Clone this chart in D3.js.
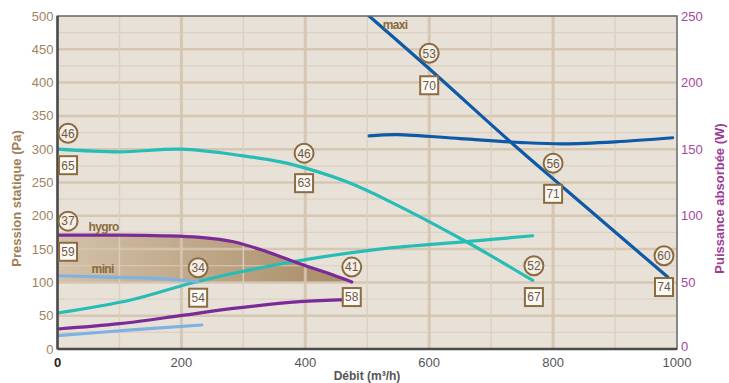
<!DOCTYPE html>
<html><head><meta charset="utf-8">
<script src="https://cdn.jsdelivr.net/npm/d3@7"></script>
<style>body{margin:0;background:#fff}svg{display:block}text{font-family:"Liberation Sans",Arial,sans-serif}</style>
</head><body><svg id="c" width="729" height="383"></svg>
<script>
// ---- data ----
const xTicks = [0,200,400,600,800,1000];
const yTicks = [0,50,100,150,200,250,300,350,400,450,500];
const y2Ticks = [0,50,100,150,200,250];
// pressure curves (Pa) vs flow (m3/h)
const maxiP  = [[503,500],[601,420],[730,312],[822,238],[985,108]];
const medP   = [[0,300],[100,296],[200,300],[300,290],[360,281],[410,269],[467,251],[531,224],[660,161],[767,103]];
const hygroP = [[0,171],[100,171],[170,170],[230,167.5],[284,161],[338,146],[391,128],[445,111],[475,100.6]];
const miniP  = [[0,110],[80,108],[157,106],[190,104],[227,101]];
// power curves (W)
const maxiW  = [[503,160],[548,161],[650,158],[750,155],[816,154],[900,155.5],[993,158.6]];
const medW   = [[0,27],[120,37],[225,50.5],[380,65.5],[520,75],[660,80.6],[767,85]];
const hygroW = [[0,15],[100,19],[198,25],[284,30.5],[391,35.5],[465,37]];
const miniW  = [[0,10],[120,14.3],[233,18]];
// annotations: [flow, Pa, text]
const circleLabels = [[17,324,"46"],[17,192,"37"],[227,122,"34"],[475,123,"41"],[398,294,"46"],[769,125,"52"],[600,444,"53"],[800,279,"56"],[979,140,"60"]];
const squareLabels = [[17,276,"65"],[17,146,"59"],[227,77,"54"],[475,78,"58"],[398,249,"63"],[769,78,"67"],[600,396,"70"],[800,233,"71"],[979,93,"74"]];
const curveNames = [[50,183,"hygro"],[55,120,"mini"],[545,487,"maxi"]];

// ---- layout ----
const svg = d3.select("#c");
const x = d3.scaleLinear([0,1000],[57.5,677]);
const y = d3.scaleLinear([0,500],[349,16]);
const y2 = d3.scaleLinear([0,250],[349,16]);

const defs = svg.append("defs");
const g = defs.append("linearGradient").attr("id","sh").attr("x1","0").attr("x2","1").attr("y1","0").attr("y2","0");
g.append("stop").attr("offset","0").attr("stop-color","#d3c1a8");
g.append("stop").attr("offset","1").attr("stop-color","#a98b66");
defs.append("clipPath").attr("id","clip").append("rect")
  .attr("x",x(0)).attr("y",y(500)).attr("width",x(1000)-x(0)).attr("height",y(0)-y(500));

svg.append("rect").attr("x",x(0)).attr("y",y(500)).attr("width",x(1000)-x(0)).attr("height",y(0)-y(500)).attr("fill","#e8e1d7");

const crv = d3.curveCatmullRom.alpha(0.5);
// shaded zone between hygro curve and 100 Pa
svg.append("path").datum(hygroP)
  .attr("d", d3.area().x(d=>x(d[0])).y0(y(100)).y1(d=>y(d[1])).curve(crv))
  .attr("fill","url(#sh)");

// grid
const gy = d3.range(25,500,25);
svg.append("g").selectAll("line").data(gy).join("line")
  .attr("x1",x(0)).attr("x2",x(1000)).attr("y1",d=>y(d)).attr("y2",d=>y(d))
  .attr("stroke", d=> d%50===0 ? "#d5c5b0" : "#ddd0c0")
  .attr("stroke-width", d=> d%50===0 ? 2.5 : 1.2).attr("opacity",0.9);
const gx = d3.range(100,1000,100);
svg.append("g").selectAll("line").data(gx).join("line")
  .attr("y1",y(0)).attr("y2",y(500)).attr("x1",d=>x(d)).attr("x2",d=>x(d))
  .attr("stroke", d=> d%200===0 ? "#d5c5b0" : "#ddd0c0")
  .attr("stroke-width", d=> d%200===0 ? 3 : 1.5).attr("opacity",0.9);

// curves
const lp = d3.line().x(d=>x(d[0])).y(d=>y(d[1])).curve(crv);
const lw = d3.line().x(d=>x(d[0])).y(d=>y2(d[1])).curve(crv);
const cg = svg.append("g").attr("clip-path","url(#clip)");
const curves = [
  [miniW, lw, "#7fb1e3"],[hygroW, lw, "#7b2b97"],[medW, lw, "#27bdb7"],[maxiW, lw, "#0e5aa6"],
  [miniP, lp, "#7fb1e3"],[hygroP, lp, "#7b2b97"],[medP, lp, "#27bdb7"],[maxiP, lp, "#0e5aa6"]
];
curves.forEach(([d,l,c])=>{
  cg.append("path").datum(d).attr("d",l).attr("fill","none").attr("stroke",c).attr("stroke-width",3.2).attr("stroke-linecap","round");
});

// frame
svg.append("rect").attr("x",x(0)).attr("y",y(500)).attr("width",x(1000)-x(0)).attr("height",y(0)-y(500))
  .attr("fill","none").attr("stroke","#666").attr("stroke-width",1.5);
svg.append("line").attr("x1",x(0)).attr("x2",x(1000)).attr("y1",y(0)).attr("y2",y(0)).attr("stroke","#4a4a4a").attr("stroke-width",2.5);
svg.append("line").attr("x1",x(0)).attr("x2",x(0)).attr("y1",y(0)).attr("y2",y(500)).attr("stroke","#4a4a4a").attr("stroke-width",2.5);

// annotations
const brown = "#8b6b3f";
svg.append("g").selectAll("g").data(circleLabels).join("g")
  .attr("transform",d=>`translate(${x(d[0])},${y(d[1])})`)
  .call(s=>{
    s.append("circle").attr("r",9.5).attr("fill","#f3eee7").attr("stroke",brown).attr("stroke-width",2);
    s.append("text").attr("text-anchor","middle").attr("dy","0.36em").attr("font-size",12).attr("fill","#6f5a44").text(d=>d[2]);
  });
svg.append("g").selectAll("g").data(squareLabels).join("g")
  .attr("transform",d=>`translate(${x(d[0])},${y(d[1])})`)
  .call(s=>{
    s.append("rect").attr("x",-9).attr("y",-9).attr("width",18).attr("height",18).attr("fill","#fbf9f6").attr("stroke",brown).attr("stroke-width",2);
    s.append("text").attr("text-anchor","middle").attr("dy","0.36em").attr("font-size",12).attr("fill","#6f5a44").text(d=>d[2]);
  });
svg.append("g").selectAll("text").data(curveNames).join("text")
  .attr("x",d=>x(d[0])).attr("y",d=>y(d[1])).attr("dy","0.35em")
  .attr("text-anchor",(d,i)=> i===2 ? "middle":"start")
  .attr("font-size",12).attr("font-weight","bold").attr("letter-spacing","-0.6").attr("fill","#8a6a3c").text(d=>d[2]);

// axes
svg.append("g").selectAll("text").data(yTicks).join("text")
  .attr("x",x(0)-4).attr("y",d=>y(d)).attr("dy","0.35em").attr("text-anchor","end")
  .attr("font-size",13).attr("fill","#9c8462").text(d=>d);
svg.append("g").selectAll("text").data(y2Ticks).join("text")
  .attr("x",x(1000)+4).attr("y",d=>y2(d)-(d===0?3:0)).attr("dy","0.35em").attr("text-anchor","start")
  .attr("font-size",13).attr("fill","#a4479c").text(d=>d);
svg.append("g").selectAll("text").data(xTicks).join("text")
  .attr("x",d=>x(d)).attr("y",y(0)+18).attr("text-anchor","middle")
  .attr("font-size",13).attr("font-weight",d=>d===0?"bold":"normal").attr("fill",d=>d===0?"#222":"#555").text(d=>d);

svg.append("text").attr("transform",`translate(21,${(y(0)+y(500))/2+16}) rotate(-90)`)
  .attr("text-anchor","middle").attr("font-size",13).attr("font-weight","bold").attr("fill","#9c7f58").text("Pression statique (Pa)");
svg.append("text").attr("transform",`translate(724,${(y(0)+y(500))/2+16}) rotate(-90)`)
  .attr("text-anchor","middle").attr("font-size",13).attr("font-weight","bold").attr("fill","#9c3c96").text("Puissance absorbée (W)");
svg.append("text").attr("x",367).attr("y",380).attr("text-anchor","middle")
  .attr("font-size",12).attr("font-weight","bold").attr("fill","#555").text("Débit (m³/h)");
</script></body></html>
